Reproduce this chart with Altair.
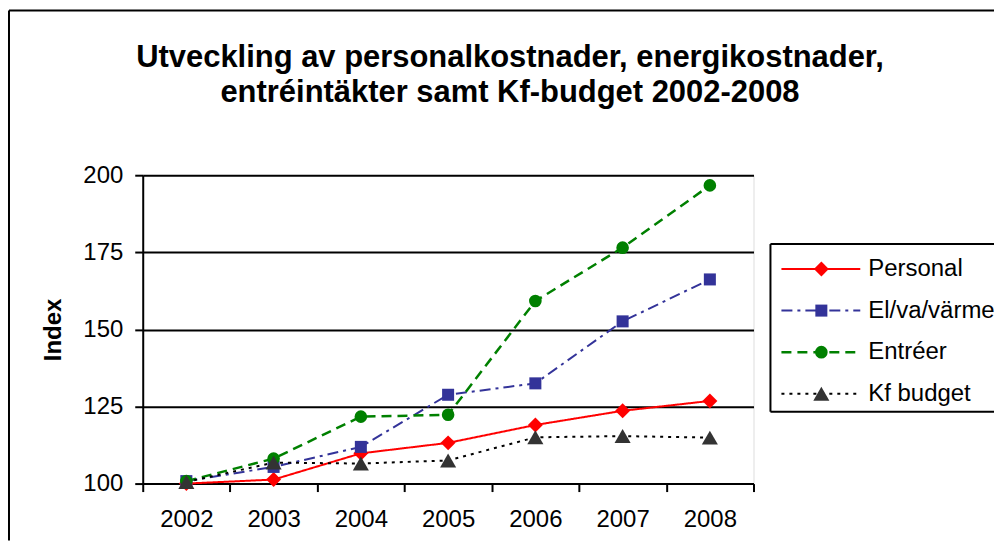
import altair as alt
import pandas as pd

# ---- data ----
years = ["2002", "2003", "2004", "2005", "2006", "2007", "2008"]
series_names = ["Personal", "El/va/värme", "Entréer", "Kf budget"]
personal = [100.0, 101.3, 109.8, 113.2, 119.0, 123.6, 126.8]
el_va_varme = [100.8, 105.4, 111.9, 128.8, 132.5, 152.6, 166.2]
entreer = [100.8, 108.1, 121.7, 122.3, 159.2, 176.5, 196.7]
kf_budget = [100.5, 106.8, 106.5, 107.5, 115.0, 115.4, 114.9]
y_ticks = [100, 125, 150, 175, 200]
title_lines = ["Utveckling av personalkostnader, energikostnader,",
               "entréintäkter samt Kf-budget 2002-2008"]
y_title = "Index"

# ---- styles ----
FONT = "Liberation Sans"
line_colors = ["#FF0000", "#333399", "#008000", "#000000"]
marker_colors = ["#FF0000", "#333399", "#008000", "#333333"]
dashes = [[1, 0], [11, 5, 3, 5], [10, 6], [3, 5]]
widths = [2, 2, 2.5, 2]
shapes = ["diamond", "square", "circle", "triangle-up"]
sizes = [225, 145, 160, 260]

all_values = [personal, el_va_varme, entreer, kf_budget]
df = pd.DataFrame(
    [{"year": y, "value": v, "series": s}
     for s, vals in zip(series_names, all_values)
     for y, v in zip(years, vals)]
)
leg_df = pd.DataFrame({"series": series_names})
one = pd.DataFrame({"k": [0]})

x_enc = alt.X(
    "year:O",
    sort=years,
    scale=alt.Scale(type="band", paddingInner=0, paddingOuter=0),
    axis=alt.Axis(title=None, labelAngle=0, labelFontSize=24, labelFont=FONT, labelColor="black",
                  tickBand="extent", tickSize=8, tickWidth=2, tickColor="black",
                  domainColor="black", domainWidth=2, labelPadding=16, grid=False),
)
y_enc = alt.Y(
    "value:Q",
    scale=alt.Scale(domain=[100, 200], nice=False, zero=False),
    axis=alt.Axis(values=y_ticks, title=y_title, titleFontSize=24, titleFont=FONT, titleFontWeight="bold",
                  titleColor="black", titlePadding=17,
                  labelFontSize=24, labelFont=FONT, labelColor="black", labelPadding=12,
                  tickSize=8, tickWidth=2, tickColor="black", domainColor="black", domainWidth=2,
                  grid=True, gridColor="black", gridWidth=2),
)

leg_y = alt.Y("series:N", sort=series_names,
              scale=alt.Scale(type="point", domain=series_names, range=[94, 219], padding=0),
              axis=None)

line_layers, point_layers, leg_line_layers, leg_pt_layers = [], [], [], []
for i, s in enumerate(series_names):
    base = alt.Chart(df).transform_filter(alt.datum.series == s)
    line_layers.append(base.mark_line(
        color=line_colors[i], strokeDash=dashes[i], strokeWidth=widths[i]
    ).encode(x=x_enc, y=y_enc, order=alt.Order("year:O")))
    point_layers.append(base.mark_point(
        shape=shapes[i], size=sizes[i], filled=True, fill=marker_colors[i], opacity=1
    ).encode(x=x_enc, y=y_enc))
    lbase = alt.Chart(leg_df).transform_filter(alt.datum.series == s)
    leg_line_layers.append(lbase.mark_rule(
        color=line_colors[i], strokeDash=dashes[i], strokeWidth=widths[i]
    ).encode(x=alt.value(640), x2=alt.value(719), y=leg_y))
    leg_pt_layers.append(lbase.mark_point(
        shape=shapes[i], size=sizes[i], filled=True, fill=marker_colors[i], opacity=1
    ).encode(x=alt.value(680), y=leg_y))

main = alt.layer(*line_layers, *point_layers)

leg_txt = alt.Chart(leg_df).mark_text(align="left", baseline="middle", fontSize=24, font=FONT,
                                      color="black").encode(
    x=alt.value(727), y=leg_y, text="series:N")
legend = alt.layer(*leg_line_layers, *leg_pt_layers, leg_txt)

# ---- title as text ----
title = alt.Chart(one).mark_text(
    text=title_lines, fontSize=31, font=FONT, fontWeight="bold", color="black",
    align="center", baseline="alphabetic", lineHeight=35,
).encode(x=alt.value(368), y=alt.value(-108))

# ---- frames ----
frame_style = dict(color="black", strokeWidth=2)
frame_top = alt.Chart(one).mark_rule(**frame_style).encode(
    x=alt.value(-134), x2=alt.value(853), y=alt.value(-165))
frame_left = alt.Chart(one).mark_rule(**frame_style).encode(
    x=alt.value(-134), y=alt.value(-165), y2=alt.value(366))
leg_top = alt.Chart(one).mark_rule(**frame_style).encode(
    x=alt.value(629), x2=alt.value(853), y=alt.value(69))
leg_bot = alt.Chart(one).mark_rule(**frame_style).encode(
    x=alt.value(629), x2=alt.value(853), y=alt.value(237))
leg_left = alt.Chart(one).mark_rule(**frame_style).encode(
    x=alt.value(629), y=alt.value(69), y2=alt.value(237))

chart = alt.layer(
    main, legend, title, frame_top, frame_left, leg_top, leg_bot, leg_left
).resolve_scale(
    y="independent"
).properties(
    width=612,
    height=309,
    padding={"left": 0, "top": 1, "right": 0, "bottom": 0},
).configure_view(
    stroke="black", strokeWidth=2
).configure(
    background="white"
)

chart.save("out.html", embed_options={"renderer": "svg", "actions": False})
